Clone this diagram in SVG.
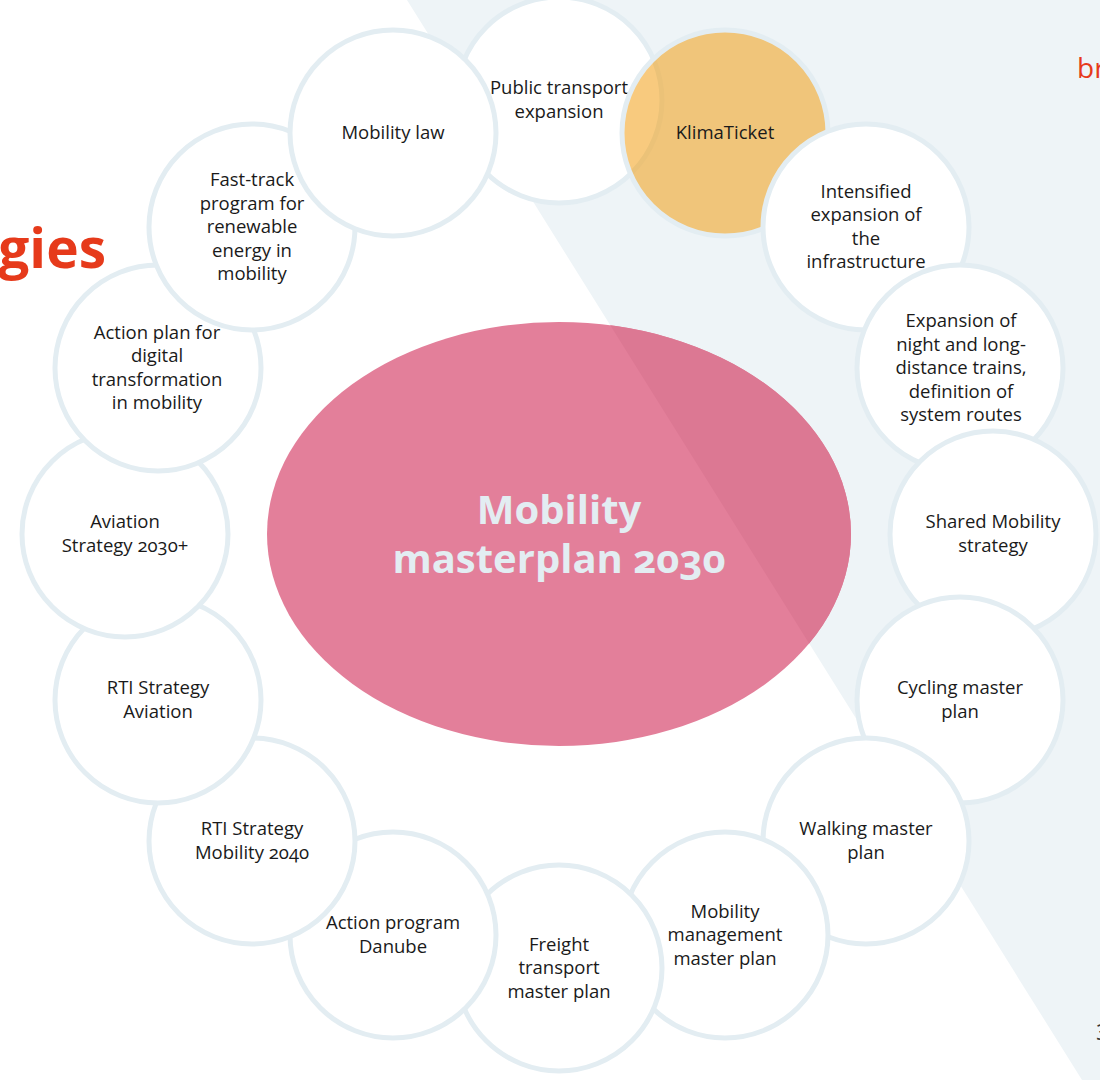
<svg xmlns="http://www.w3.org/2000/svg" width="1100" height="1080" viewBox="0 0 1100 1080">
<style>
.ring{fill:#ffffff;stroke:#E3EDF2;stroke-width:5}
.klima{fill:#F29E14;fill-opacity:0.55;stroke:#E3EDF2;stroke-width:5}
.lbl{font-family:"Open Sans","Noto Sans",sans-serif;font-size:18.5px;fill:#1a1a1a;text-anchor:middle;font-variant-numeric:oldstyle-nums;font-feature-settings:"onum"}
.title{font-family:"Open Sans","Noto Sans",sans-serif;font-weight:bold;font-size:40px;fill:#E3EDF2;text-anchor:middle;font-variant-numeric:oldstyle-nums;font-feature-settings:"onum"}
.red{font-family:"Open Sans","Noto Sans",sans-serif;fill:#E63A1B}
</style>
<defs>
<clipPath id="ellClip"><ellipse cx="559" cy="534" rx="292" ry="212"/></clipPath>
</defs>
<rect x="0" y="0" width="1100" height="1080" fill="#ffffff"/>
<polygon id="band" points="407,0 1100,0 1100,1080 1082,1080" fill="#EEF4F7"/>
<text class="red" x="106" y="268" font-size="55" font-weight="bold" text-anchor="end">gies</text>
<text class="red" x="1077" y="78" font-size="28">br</text>
<text x="1096" y="1040" font-family="Open Sans, sans-serif" font-size="22" fill="#333">3</text>

<g id="center">
<ellipse cx="559" cy="534" rx="292" ry="212" fill="#E37F9A"/>
<polygon points="407,0 1100,0 1100,1080 1082,1080" fill="#DC7893" clip-path="url(#ellClip)"/>
<text class="title" x="559" y="524">Mobility</text>
<text class="title" x="559" y="573">masterplan 2030</text>
</g>

<g id="connectors"></g>

<g id="n-public-transport">
<circle class="ring" cx="559" cy="100" r="103"/>
<text class="lbl" x="559" y="94">Public transport</text>
<text class="lbl" x="559" y="117.5">expansion</text>
</g>
<g id="n-klimaticket">
<circle class="klima" cx="725" cy="133" r="103"/>
<text class="lbl" x="725" y="139">KlimaTicket</text>
</g>
<g id="n-intensified">
<circle class="ring" cx="866" cy="227" r="103"/>
<text class="lbl" x="866" y="197.7">Intensified</text>
<text class="lbl" x="866" y="221.2">expansion of</text>
<text class="lbl" x="866" y="244.7">the</text>
<text class="lbl" x="866" y="268.2">infrastructure</text>
</g>
<g id="n-night-trains">
<circle class="ring" cx="960" cy="368" r="103"/>
<text class="lbl" x="961" y="327">Expansion of</text>
<text class="lbl" x="961" y="350.5">night and long-</text>
<text class="lbl" x="961" y="374">distance trains,</text>
<text class="lbl" x="961" y="397.5">definition of</text>
<text class="lbl" x="961" y="421">system routes</text>
</g>
<g id="n-shared">
<circle class="ring" cx="993" cy="534" r="103"/>
<text class="lbl" x="993" y="528.2">Shared Mobility</text>
<text class="lbl" x="993" y="551.7">strategy</text>
</g>
<g id="n-cycling">
<circle class="ring" cx="960" cy="700" r="103"/>
<text class="lbl" x="960" y="694.2">Cycling master</text>
<text class="lbl" x="960" y="717.7">plan</text>
</g>
<g id="n-walking">
<circle class="ring" cx="866" cy="841" r="103"/>
<text class="lbl" x="866" y="835.2">Walking master</text>
<text class="lbl" x="866" y="858.7">plan</text>
</g>
<g id="n-mobility-management">
<circle class="ring" cx="725" cy="935" r="103"/>
<text class="lbl" x="725" y="917.5">Mobility</text>
<text class="lbl" x="725" y="941">management</text>
<text class="lbl" x="725" y="964.5">master plan</text>
</g>
<g id="n-freight">
<circle class="ring" cx="559" cy="968" r="103"/>
<text class="lbl" x="559" y="950.5">Freight</text>
<text class="lbl" x="559" y="974">transport</text>
<text class="lbl" x="559" y="997.5">master plan</text>
</g>
<g id="n-danube">
<circle class="ring" cx="393" cy="935" r="103"/>
<text class="lbl" x="393" y="929.2">Action program</text>
<text class="lbl" x="393" y="952.7">Danube</text>
</g>
<g id="n-rti-mobility">
<circle class="ring" cx="252" cy="841" r="103"/>
<text class="lbl" x="252" y="835.2">RTI Strategy</text>
<text class="lbl" x="252" y="858.7">Mobility 2040</text>
</g>
<g id="n-rti-aviation">
<circle class="ring" cx="158" cy="700" r="103"/>
<text class="lbl" x="158" y="694.2">RTI Strategy</text>
<text class="lbl" x="158" y="717.7">Aviation</text>
</g>
<g id="n-aviation">
<circle class="ring" cx="125" cy="534" r="103"/>
<text class="lbl" x="125" y="528.2">Aviation</text>
<text class="lbl" x="125" y="551.7">Strategy 2030+</text>
</g>
<g id="n-digital">
<circle class="ring" cx="158" cy="368" r="103"/>
<text class="lbl" x="157" y="338.7">Action plan for</text>
<text class="lbl" x="157" y="362.2">digital</text>
<text class="lbl" x="157" y="385.7">transformation</text>
<text class="lbl" x="157" y="409.2">in mobility</text>
</g>
<g id="n-fast-track">
<circle class="ring" cx="252" cy="227" r="103"/>
<text class="lbl" x="252" y="186">Fast-track</text>
<text class="lbl" x="252" y="209.5">program for</text>
<text class="lbl" x="252" y="233">renewable</text>
<text class="lbl" x="252" y="256.5">energy in</text>
<text class="lbl" x="252" y="280">mobility</text>
</g>
<g id="n-mobility-law">
<circle class="ring" cx="393" cy="133" r="103"/>
<text class="lbl" x="393" y="139">Mobility law</text>
</g>
</svg>
